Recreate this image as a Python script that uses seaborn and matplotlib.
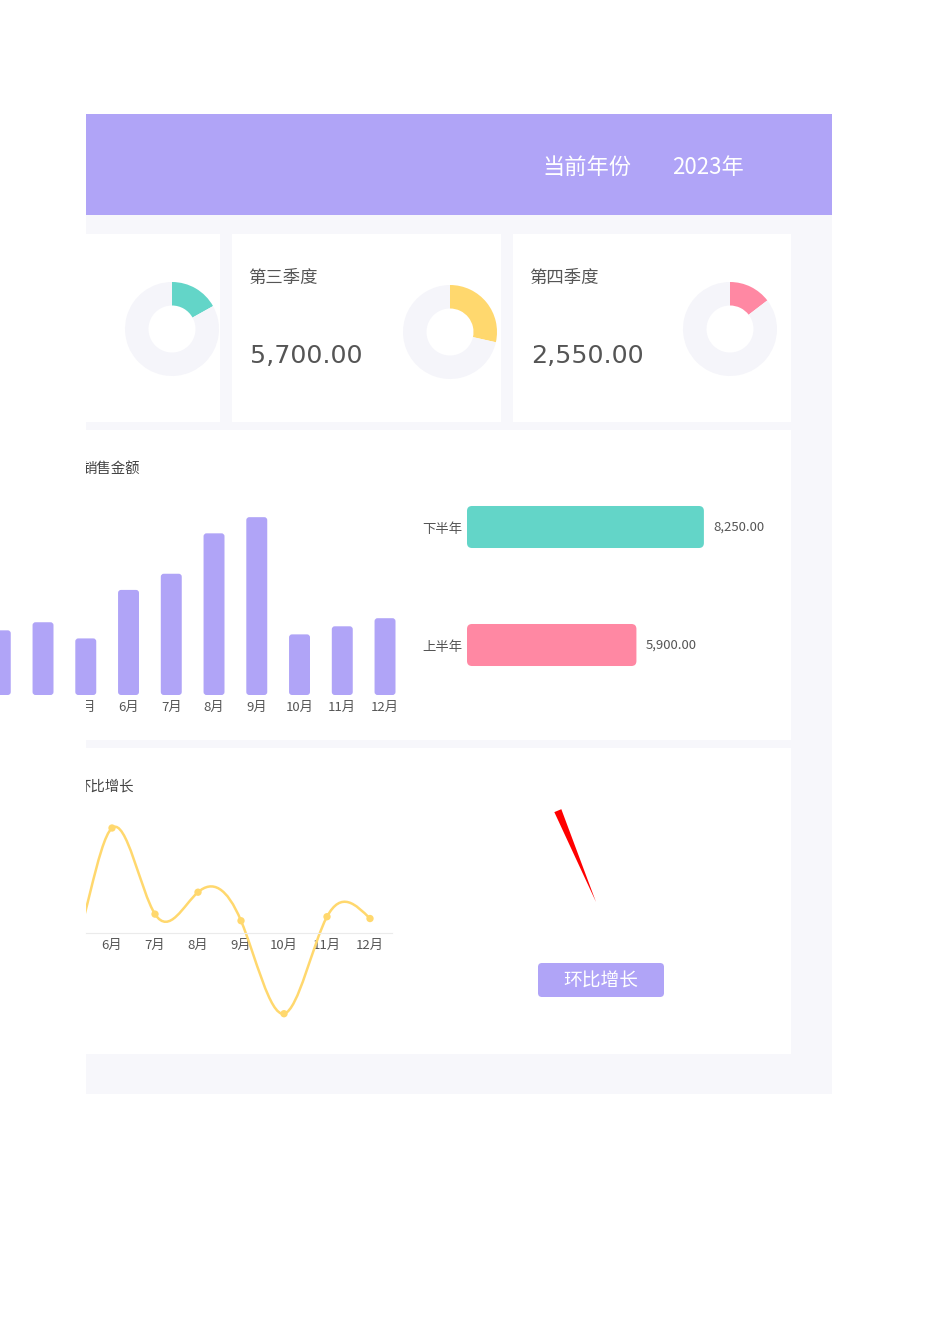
import numpy as np
import matplotlib.pyplot as plt
import seaborn as sns
from matplotlib.patches import Rectangle, FancyBboxPatch, Polygon, PathPatch
from matplotlib.path import Path
from matplotlib.transforms import Bbox, TransformedBbox

months = ['1月', '2月', '3月', '4月', '5月', '6月', '7月', '8月', '9月', '10月', '11月', '12月']
sales = [1000, 1200, 800, 900, 700, 1300, 1500, 2000, 2200, 750, 850, 950]
growth = [np.nan, 0.20, -0.333, 0.125, -0.222, 0.857, 0.154, 0.333, 0.10, -0.659, 0.133, 0.118]
half_labels = ['上半年', '下半年']
half_values = [5900, 8250]
quarter_titles = ['第二季度', '第三季度', '第四季度']
quarter_values = [2900, 5700, 2550]
quarter_share = [0.169, 0.285, 0.146]
year_label = '当前年份'
year_value = '2023年'
gauge_value = 0.416

# ---- style ----
W, H = 950, 1344
PURPLE = '#B0A4F7'
TEAL = '#63D5C8'
YELLOW = '#FFD86E'
PINK = '#FF88A3'
BG = '#F7F7FB'
RING = '#F5F5FA'
TXT = '#555555'
quarter_colors = [TEAL, YELLOW, PINK]
LEFT = 86  # the dashboard is cut off at this x

sns.set_style('white')
plt.rcParams['font.family'] = ['Noto Sans CJK SC', 'DejaVu Sans']
plt.rcParams['axes.unicode_minus'] = False

fig = plt.figure(figsize=(W / 100, H / 100), dpi=100)


def box(x0, y0, x1, y1):
    # pixel box (top-left origin) -> figure fraction rect
    return [x0 / W, 1 - y1 / H, (x1 - x0) / W, (y1 - y0) / H]


page = fig.add_axes([0, 0, 1, 1])
page.set_xlim(0, W)
page.set_ylim(H, 0)
page.axis('off')
clip = TransformedBbox(Bbox.from_extents(LEFT / W, 0, 1, 1), fig.transFigure)


def clipped(artist):
    artist.set_clip_box(clip)
    artist.set_clip_on(True)
    return artist


def round_bars(ax, r_px):
    sx, sy = np.abs(ax.transData.transform([1, 1]) - ax.transData.transform([0, 0]))
    for p in list(ax.patches):
        if not isinstance(p, Rectangle):
            continue
        x, y, w, h = p.get_x(), p.get_y(), p.get_width(), p.get_height()
        fc = p.get_facecolor()
        p.remove()
        if np.isnan(w) or np.isnan(h) or w == 0 or h == 0:
            continue
        ax.add_patch(FancyBboxPatch((x, y), w, h,
                                    boxstyle=f'round,pad=0,rounding_size={r_px / sx}',
                                    mutation_aspect=sx / sy, facecolor=fc,
                                    edgecolor='none', zorder=2))


# page background and header
page.add_patch(Rectangle((86, 114), 746, 101, color=PURPLE, lw=0))
page.add_patch(Rectangle((86, 215), 746, 879, color=BG, lw=0))
page.text(587, 167, year_label, fontsize=16, color='white', ha='center', va='center')
page.text(708, 167, year_value, fontsize=16, color='white', ha='center', va='center')

# quarter cards with donuts
card_left = [-49, 232, 513]
card_width = [269, 269, 278]
donut_center = [(172, 329), (450, 332), (730, 329)]
for i in range(3):
    clipped(page.add_patch(Rectangle((card_left[i], 234), card_width[i], 188, color='white', lw=0)))
    if card_left[i] > LEFT:  # the first card's texts lie outside the cut
        page.text(card_left[i] + 16, 278, quarter_titles[i], fontsize=12.5,
                  color=TXT, va='center')
        page.text(card_left[i] + 18, 356, f'{quarter_values[i]:,.2f}', fontsize=18.3,
                  family='DejaVu Sans', color=TXT, va='center')
    cx, cy = donut_center[i]
    ax = fig.add_axes(box(cx - 47, cy - 47, cx + 47, cy + 47))
    ax.pie([quarter_share[i], 1 - quarter_share[i]], colors=[quarter_colors[i], RING],
           startangle=90, counterclock=False, radius=1,
           wedgeprops=dict(width=0.5, linewidth=0))
    ax.set_xlim(-1, 1)
    ax.set_ylim(-1, 1)
    ax.axis('off')

# monthly sales card
page.add_patch(Rectangle((86, 430), 705, 310, color='white', lw=0))
clipped(page.text(82, 469, '销售金额', fontsize=10.4, color='#444444', va='center'))

ax_bar = fig.add_axes(box(-106.6, 501, 406.4, 695))
ax_bar.patch.set_alpha(0)
sns.barplot(x=months, y=sales, color=PURPLE, saturation=1, width=0.49, ax=ax_bar)
ax_bar.set_xlim(-0.5, 11.5)
ax_bar.set_ylim(0, 2400)
ax_bar.set(xlabel='', ylabel='')
ax_bar.set_yticks([])
sns.despine(ax=ax_bar, left=True, bottom=True)
ax_bar.tick_params(axis='x', length=0, pad=4.5, labelsize=9.5, labelcolor=TXT)
round_bars(ax_bar, 3)
for i, lab in enumerate(ax_bar.get_xticklabels()):
    clipped(lab)
    if i < 4:  # fully outside the cut
        lab.set_visible(False)

# half-year bars
ax_half = fig.add_axes(box(467, 468, 780, 704))
ax_half.patch.set_alpha(0)
sns.barplot(x=half_values, y=half_labels, hue=half_labels, order=['下半年', '上半年'],
            palette={'上半年': PINK, '下半年': TEAL}, saturation=1, width=0.356,
            legend=False, ax=ax_half)
ax_half.set_xlim(0, 10900)
ax_half.set_ylim(1.5, -0.5)
ax_half.set(xlabel='', ylabel='')
ax_half.set_xticks([])
sns.despine(ax=ax_half, left=True, bottom=True)
ax_half.tick_params(axis='y', length=0, pad=3, labelsize=9.6, labelcolor=TXT)
for c in ax_half.containers:
    labs = ['' if np.isnan(v) else f'{v:,.2f}' for v in c.datavalues]
    ax_half.bar_label(c, labels=labs, padding=7, fontsize=9.5, color=TXT)
round_bars(ax_half, 5)

# month-over-month growth card
page.add_patch(Rectangle((86, 748), 705, 306, color='white', lw=0))
clipped(page.text(77, 787, '环比增长', fontsize=10.4, color='#444444', va='center'))

ax_line = fig.add_axes(box(86, 810, 391.5, 1030))
ax_line.patch.set_alpha(0)
x = np.arange(len(months))
g = np.array(growth)
valid = ~np.isnan(g)
xs, ys = x[valid], g[valid]
n = len(xs)
# smooth line: natural cubic spline through the monthly points, drawn as bezier segments
A = np.zeros((n, n))
rhs = np.zeros(n)
A[0, 0] = A[-1, -1] = 1
for i in range(1, n - 1):
    A[i, i - 1:i + 2] = [1, 4, 1]
    rhs[i] = 6 * (ys[i + 1] - 2 * ys[i] + ys[i - 1])
M = np.linalg.solve(A, rhs)
verts = [(xs[0], ys[0])]
for i in range(n - 1):
    d = ys[i + 1] - ys[i]
    s0 = d - (2 * M[i] + M[i + 1]) / 6
    s1 = d + (M[i] + 2 * M[i + 1]) / 6
    verts += [(xs[i] + 1 / 3, ys[i] + s0 / 3), (xs[i + 1] - 1 / 3, ys[i + 1] - s1 / 3),
              (xs[i + 1], ys[i + 1])]
codes = [Path.MOVETO] + [Path.CURVE4] * (3 * (n - 1))
ax_line.add_patch(PathPatch(Path(verts, codes), fill=False, edgecolor=YELLOW, lw=1.8))
sns.scatterplot(x=xs, y=ys, color=YELLOW, s=28, edgecolor='none', ax=ax_line, zorder=3)
shown = [i for i in x if i >= 5]
ax_line.set_xticks(shown, [months[i] for i in shown])
ax_line.set_yticks([])
ax_line.set(xlabel='', ylabel='')
ax_line.set_xlim(4.395, 11.5)
ax_line.set_ylim(-0.792, 1.004)
for s in ['top', 'right', 'left']:
    ax_line.spines[s].set_visible(False)
ax_line.spines['bottom'].set_position(('data', 0))
ax_line.spines['bottom'].set_color('#EBEBEB')
ax_line.spines['bottom'].set_linewidth(0.8)
ax_line.tick_params(axis='x', length=0, pad=4.5, labelsize=9.5, labelcolor=TXT)

# gauge needle
cx, cy = 596, 902
ang = np.deg2rad(225 - gauge_value * 270)
direc = np.array([np.cos(ang), -np.sin(ang)])
perp = np.array([direc[1], -direc[0]])
end = np.array([cx, cy]) + 99 * direc
page.add_patch(Polygon([(cx, cy), end + 3.8 * perp, end - 3.8 * perp],
                       closed=True, color='#FF0000', lw=0))

# button
page.add_patch(FancyBboxPatch((538, 963), 126, 34, boxstyle='round,pad=0,rounding_size=4',
                              color=PURPLE, lw=0))
page.text(601, 981, '环比增长', fontsize=13.5, color='white', ha='center', va='center')

fig.savefig('out.png', dpi=100)
